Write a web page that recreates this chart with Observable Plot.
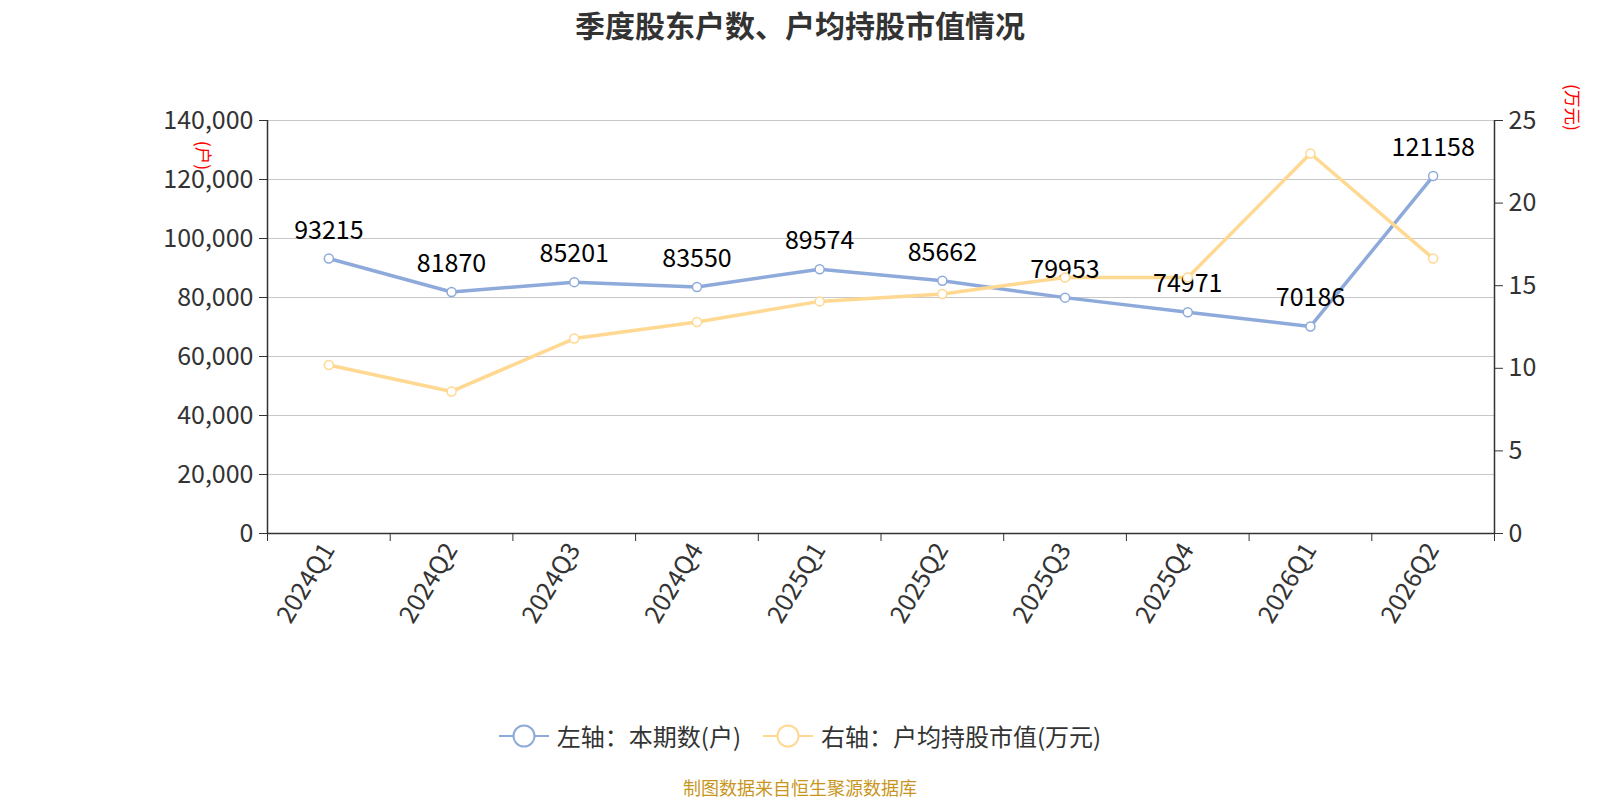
<!DOCTYPE html>
<html>
<head>
<meta charset="utf-8">
<script src="https://cdn.jsdelivr.net/npm/d3@7"></script>
<script src="https://cdn.jsdelivr.net/npm/@observablehq/plot@0.6"></script>
<style>
  html, body { margin: 0; padding: 0; background: #fff; }
  body { width: 1600px; height: 800px; position: relative; overflow: hidden; font-family: "Noto Sans CJK SC", "Noto Sans", sans-serif; }
  #chart { position: absolute; top: 0; left: 0; z-index: 0; }
  #title { position: absolute; top: 2px; left: 0; width: 1600px; text-align: center; font-size: 30px; font-weight: bold; color: #333; z-index: 2; }
  #legend { position: absolute; top: 718px; left: 0; width: 1600px; display: flex; justify-content: center; gap: 22px; font-size: 24px; color: #333; z-index: 2; }
  .item { display: flex; align-items: center; gap: 8px; }
  #caption { position: absolute; top: 774px; left: 0; width: 1600px; text-align: center; font-size: 18px; color: #c8961e; z-index: 2; }
  .unit { position: absolute; color: red; font-size: 17.5px; z-index: 2; transform-origin: center center; transform: rotate(90deg); white-space: nowrap; }
</style>
</head>
<body>
<div id="chart"></div>
<div id="title">季度股东户数、户均持股市值情况</div>
<div class="unit" id="uL">(户)</div>
<div class="unit" id="uR">(万元)</div>
<div id="legend"></div>
<div id="caption">制图数据来自恒生聚源数据库</div>
<script>
const quarters = ["2024Q1","2024Q2","2024Q3","2024Q4","2025Q1","2025Q2","2025Q3","2025Q4","2026Q1","2026Q2"];
const holders = [93215, 81870, 85201, 83550, 89574, 85662, 79953, 74971, 70186, 121158];
const avgValue = [10.2, 8.6, 11.8, 12.8, 14.05, 14.5, 15.5, 15.5, 23.0, 16.65];
const leftTicks = [0, 20000, 40000, 60000, 80000, 100000, 120000, 140000];
const rightTicks = [0, 5, 10, 15, 20, 25];
const seriesNames = ["左轴：本期数(户)", "右轴：户均持股市值(万元)"];

const blue = "#8eaadb";
const yellow = "#ffd891";
const leftMax = 140000, rightMax = 25;
const k = leftMax / rightMax;

const rows = quarters.map((q, i) => ({q, i: i + 0.5, holders: holders[i], avg: avgValue[i], avgScaled: avgValue[i] * k}));
const n = quarters.length;

const chart = Plot.plot({
  width: 1600,
  height: 700,
  marginLeft: 267,
  marginRight: 106,
  marginTop: 120,
  marginBottom: 167,
  style: {fontFamily: "'Noto Sans CJK SC', 'Noto Sans', sans-serif", fontSize: "24px", color: "#333", background: "white"},
  x: {type: "linear", domain: [0, n], axis: null},
  y: {domain: [0, leftMax], axis: null},
  marks: [
    Plot.gridY(leftTicks, {stroke: "#c8c8c8", strokeOpacity: 1, strokeWidth: 1.2}),
    Plot.ruleX([0], {stroke: "#333", strokeWidth: 1.5}),
    Plot.ruleX([n], {stroke: "#333", strokeWidth: 1.5}),
    Plot.ruleY([0], {stroke: "#333", strokeWidth: 1.5}),
    Plot.axisY(leftTicks, {anchor: "left", label: null, tickSize: 8, tickPadding: 6, tickFormat: d3.format(","), fontSize: 25, stroke: "#333", fill: "#333"}),
    Plot.axisY(rightTicks.map(v => v * k), {anchor: "right", label: null, tickSize: 8, tickPadding: 6, tickFormat: v => String(Math.round(v / k)), fontSize: 25, stroke: "#333", fill: "#333"}),
    Plot.axisX(d3.range(n + 1), {anchor: "bottom", label: null, tickSize: 8, tickFormat: () => "", stroke: "#333"}),
    Plot.axisX(rows.map(r => r.i), {anchor: "bottom", label: null, tickSize: 0, tickPadding: 12, tickRotate: -59, tickFormat: v => quarters[Math.floor(v)], fontSize: 25, fill: "#333"}),
    Plot.line(rows, {x: "i", y: "holders", stroke: blue, strokeWidth: 3.5}),
    Plot.line(rows, {x: "i", y: "avgScaled", stroke: yellow, strokeWidth: 3.5}),
    Plot.text(rows, {x: "i", y: "holders", text: d => String(d.holders), dy: -20, lineAnchor: "bottom", fontSize: 25, fill: "#000"}),
    Plot.dot(rows, {x: "i", y: "holders", r: 4.5, fill: "white", stroke: blue, strokeWidth: 1.5}),
    Plot.dot(rows, {x: "i", y: "avgScaled", r: 4.5, fill: "white", stroke: yellow, strokeWidth: 1.5})
  ]
});
document.getElementById("chart").appendChild(chart);

function placeUnit(id, cx, cy) {
  const el = document.getElementById(id);
  const w = el.offsetWidth, h = el.offsetHeight;
  el.style.left = (cx - w / 2) + "px";
  el.style.top = (cy - h / 2) + "px";
}
placeUnit("uL", 204, 155);
placeUnit("uR", 1573, 107);

const legend = document.getElementById("legend");
[blue, yellow].forEach((c, idx) => {
  const item = document.createElement("div");
  item.className = "item";
  item.innerHTML = `<svg width="50" height="26"><line x1="0" y1="13" x2="50" y2="13" stroke="${c}" stroke-width="2"/><circle cx="25" cy="13" r="10.5" fill="white" stroke="${c}" stroke-width="2"/></svg><span>${seriesNames[idx]}</span>`;
  legend.appendChild(item);
});
</script>
</body>
</html>
